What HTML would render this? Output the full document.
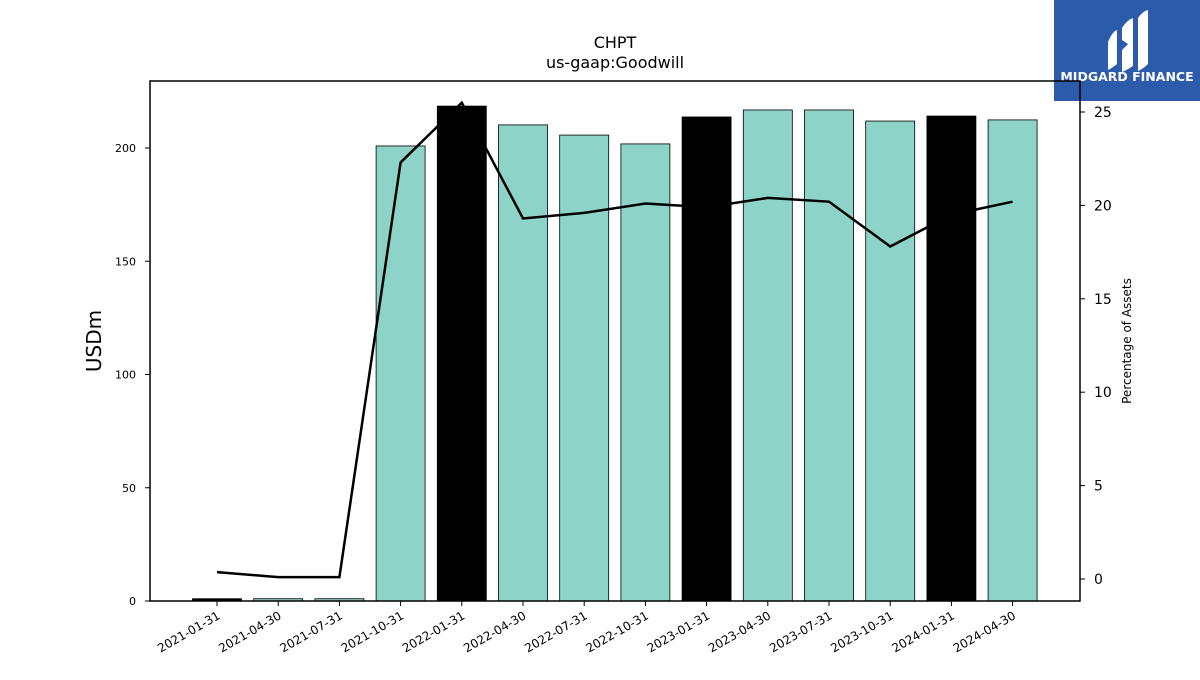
<!DOCTYPE html>
<html><head><meta charset="utf-8"><style>
body{margin:0;background:#fff;width:1200px;height:675px;overflow:hidden;font-family:"Liberation Sans","DejaVu Sans",sans-serif}
</style></head><body>
<svg id="chart" width="1200" height="675" font-family="DejaVu Sans, Liberation Sans, sans-serif">
<g>
<rect x="1054" y="0" width="146" height="101" fill="#2d5bab"/>
<path d="M1108,42 Q1112,32 1117,30 L1117,64 Q1112,68 1108,70 Z" fill="#fff"/>
<path d="M1122,28 Q1127,20 1133,18 L1133,66 Q1127,70 1122,72 L1122,50 L1128,44 L1122,40 Z" fill="#fff"/>
<path d="M1138,18 Q1143,11 1148,10 L1148,64 Q1143,69 1138,71 Z" fill="#fff"/>
<text x="1127" y="81" text-anchor="middle" font-size="12.5" font-weight="bold" fill="#fff">MIDGARD FINANCE</text>
</g>
<text x="615" y="48" text-anchor="middle" font-size="16">CHPT</text>
<text x="615" y="68" text-anchor="middle" font-size="16">us-gaap:Goodwill</text>
<g id="bars"></g><g id="line"></g><g id="axes"></g>
<rect x="150" y="81" width="930" height="520" fill="none" stroke="#000" stroke-width="1.5"/>
<text transform="translate(101,341) rotate(-90)" text-anchor="middle" font-size="20">USDm</text>
<text transform="translate(1131,341) rotate(-90)" text-anchor="middle" font-size="12">Percentage of Assets</text>
</svg>
<script>
const categories=["2021-01-31","2021-04-30","2021-07-31","2021-10-31","2022-01-31","2022-04-30","2022-07-31","2022-10-31","2023-01-31","2023-04-30","2023-07-31","2023-10-31","2024-01-31","2024-04-30"];
const goodwill=[1,1,1,200.9,218.5,210.2,205.7,201.8,213.7,216.8,216.8,211.9,214.1,212.4];
const pctAssets=[0.37,0.1,0.1,22.3,25.5,19.3,19.6,20.1,19.9,20.4,20.2,17.8,19.5,20.2];
const leftTicks=[0,50,100,150,200];
const rightTicks=[0,5,10,15,20,25];
const NS="http://www.w3.org/2000/svg";
const x=i=>217+i*61.2;
const y=v=>601-v*2.265;
const y2=v=>579-v*18.68;
function mk(t,a,p){const e=document.createElementNS(NS,t);for(const k in a)e.setAttribute(k,a[k]);p.appendChild(e);return e;}
const gb=document.getElementById('bars'),gl=document.getElementById('line'),ga=document.getElementById('axes');
goodwill.forEach((v,i)=>{
 const r=mk('rect',{x:x(i)-24.5,y:y(v),width:49,height:601-y(v),fill:categories[i].slice(5,7)==='01'?'#000':'#8dd3c7',stroke:'#000','stroke-width':0.8},gb);
 
 
 const t=mk('line',{x1:x(i),x2:x(i),y1:601,y2:606,stroke:'#000'},ga);
 
 
 const l=mk('text',{transform:`translate(${x(i)+4},${618}) rotate(-30)`,'text-anchor':'end','font-size':12},ga);
 l.textContent=categories[i];
 
 
});
const pl=mk('polyline',{points:pctAssets.map((v,i)=>x(i)+','+y2(v)).join(' '),fill:'none',stroke:'#000','stroke-width':2.5},gl);


leftTicks.forEach(v=>{
 const t=mk('line',{x1:145,x2:150,y1:y(v),y2:y(v),stroke:'#000'},ga);
 
 
 const l=mk('text',{x:136,y:y(v)+4,'text-anchor':'end','font-size':11},ga);
 l.textContent=v;
 
 
});
rightTicks.forEach(v=>{
 const t=mk('line',{x1:1080,x2:1085,y1:y2(v),y2:y2(v),stroke:'#000'},ga);
 
 
 const l=mk('text',{x:1094,y:y2(v)+5,'font-size':14},ga);
 l.textContent=v;
 
 
});
</script>
</body></html>
